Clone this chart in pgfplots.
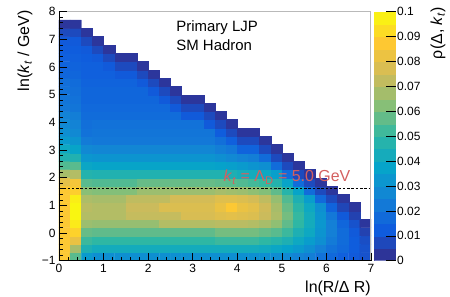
\documentclass[border=0pt]{standalone}
\usepackage{pgfplots}
\pgfplotsset{compat=1.18}
\usepackage{fontspec}
\setmainfont{Liberation Sans}
\definecolor{kred}{RGB}{212,96,96}
\pgfplotsset{colormap={kbird}{rgb=(0.2082,0.1664,0.5293) rgb=(0.0592,0.3599,0.8684) rgb=(0.0780,0.5041,0.8385) rgb=(0.0232,0.6419,0.7914) rgb=(0.1802,0.7178,0.6425) rgb=(0.5301,0.7492,0.4662) rgb=(0.8186,0.7328,0.3499) rgb=(0.9956,0.7862,0.1968) rgb=(0.9764,0.9832,0.0539)}}
\begin{document}
\begin{tikzpicture}
\path[use as bounding box] (-59bp,-36.3bp) rectangle (391bp,260.7bp);
\begin{axis}[
  at={(0,0)}, anchor=south west,
  scale only axis, width=312bp, height=249bp,
  xmin=0, xmax=7, ymin=-1, ymax=8,
  clip=false, axis on top,
  colormap name=kbird,
  point meta min=0, point meta max=0.1,
  xtick={0,1,2,3,4,5,6,7}, xticklabels={0,1,2,3,4,5,6,7},
  ytick={-1,0,1,2,3,4,5,6,7,8}, yticklabels={−1,0,1,2,3,4,5,6,7,8},
  minor x tick num=4, minor y tick num=4,
  tick align=inside, tickpos=left,
  major tick length=8bp, minor tick length=4bp,
  tick style={black, line width=0.6bp},
  axis line style={draw=none},
  ticklabel style={font=\fontsize{12}{14}\selectfont},
  xlabel={ln(R/Δ R)},
  ylabel={ln(\textit{k}\textsubscript{\textit{t}} / GeV)},
  label style={font=\fontsize{16}{18}\selectfont, inner sep=0pt},
  xlabel style={at={(axis description cs:1,-0.1297)}, anchor=base east},
  ylabel style={at={(axis description cs:-0.096,1.0068)}, anchor=base east},
  colorbar sampled,
  colorbar style={
    at={(parent axis.north east)}, anchor=north west, xshift=-5.5bp,
    scale only axis, width=22bp, height=249bp,
    samples=21,
    ytick={0,0.01,0.02,0.03,0.04,0.05,0.06,0.07,0.08,0.09,0.1},
    yticklabels={0,0.01,0.02,0.03,0.04,0.05,0.06,0.07,0.08,0.09,0.1},
    ytick pos=right, yticklabel pos=right,
    tick align=inside, major tick length=10bp, minor y tick num=0,
    axis line style={draw=none},
    tick style={black, line width=0.6bp},
    yticklabel style={font=\fontsize{12}{14}\selectfont, inner sep=1bp},
  },
]
\addplot[matrix plot*, mesh/cols=28, point meta=explicit, unbounded coords=jump] table[meta=c] {
x y c
0.125 -0.85 0.087
0.375 -0.85 0.056
0.625 -0.85 0.034
0.875 -0.85 0.030
1.125 -0.85 0.030
1.375 -0.85 0.030
1.625 -0.85 0.030
1.875 -0.85 0.030
2.125 -0.85 0.030
2.375 -0.85 0.030
2.625 -0.85 0.030
2.875 -0.85 0.030
3.125 -0.85 0.030
3.375 -0.85 0.030
3.625 -0.85 0.030
3.875 -0.85 0.030
4.125 -0.85 0.030
4.375 -0.85 0.030
4.625 -0.85 0.030
4.875 -0.85 0.029
5.125 -0.85 0.028
5.375 -0.85 0.026
5.625 -0.85 0.024
5.875 -0.85 0.020
6.125 -0.85 0.017
6.375 -0.85 0.014
6.625 -0.85 0.012
6.875 -0.85 0.010
0.125 -0.55 0.087
0.375 -0.55 0.068
0.625 -0.55 0.045
0.875 -0.55 0.042
1.125 -0.55 0.042
1.375 -0.55 0.042
1.625 -0.55 0.042
1.875 -0.55 0.042
2.125 -0.55 0.042
2.375 -0.55 0.042
2.625 -0.55 0.042
2.875 -0.55 0.042
3.125 -0.55 0.042
3.375 -0.55 0.042
3.625 -0.55 0.042
3.875 -0.55 0.042
4.125 -0.55 0.042
4.375 -0.55 0.042
4.625 -0.55 0.041
4.875 -0.55 0.039
5.125 -0.55 0.037
5.375 -0.55 0.034
5.625 -0.55 0.030
5.875 -0.55 0.025
6.125 -0.55 0.020
6.375 -0.55 0.017
6.625 -0.55 0.013
6.875 -0.55 0.010
0.125 -0.25 0.087
0.375 -0.25 0.082
0.625 -0.25 0.052
0.875 -0.25 0.050
1.125 -0.25 0.050
1.375 -0.25 0.050
1.625 -0.25 0.050
1.875 -0.25 0.050
2.125 -0.25 0.050
2.375 -0.25 0.050
2.625 -0.25 0.050
2.875 -0.25 0.050
3.125 -0.25 0.050
3.375 -0.25 0.050
3.625 -0.25 0.052
3.875 -0.25 0.052
4.125 -0.25 0.052
4.375 -0.25 0.052
4.625 -0.25 0.050
4.875 -0.25 0.048
5.125 -0.25 0.045
5.375 -0.25 0.040
5.625 -0.25 0.035
5.875 -0.25 0.030
6.125 -0.25 0.023
6.375 -0.25 0.018
6.625 -0.25 0.013
6.875 -0.25 0.009
0.125 0.05 0.087
0.375 0.05 0.090
0.625 0.05 0.058
0.875 0.05 0.057
1.125 0.05 0.057
1.375 0.05 0.057
1.625 0.05 0.057
1.875 0.05 0.057
2.125 0.05 0.057
2.375 0.05 0.057
2.625 0.05 0.057
2.875 0.05 0.057
3.125 0.05 0.057
3.375 0.05 0.057
3.625 0.05 0.060
3.875 0.05 0.060
4.125 0.05 0.060
4.375 0.05 0.060
4.625 0.05 0.058
4.875 0.05 0.056
5.125 0.05 0.052
5.375 0.05 0.045
5.625 0.05 0.040
5.875 0.05 0.032
6.125 0.05 0.025
6.375 0.05 0.018
6.625 0.05 0.012
6.875 0.05 0.006
0.125 0.35 0.087
0.375 0.35 0.096
0.625 0.35 0.066
0.875 0.35 0.065
1.125 0.35 0.065
1.375 0.35 0.065
1.625 0.35 0.065
1.875 0.35 0.065
2.125 0.35 0.065
2.375 0.35 0.070
2.625 0.35 0.070
2.875 0.35 0.070
3.125 0.35 0.070
3.375 0.35 0.070
3.625 0.35 0.071
3.875 0.35 0.071
4.125 0.35 0.071
4.375 0.35 0.070
4.625 0.35 0.068
4.875 0.35 0.064
5.125 0.35 0.057
5.375 0.35 0.050
5.625 0.35 0.042
5.875 0.35 0.033
6.125 0.35 0.025
6.375 0.35 0.016
6.625 0.35 0.010
6.875 0.35 0.003
0.125 0.65 0.087
0.375 0.65 0.099
0.625 0.65 0.070
0.875 0.65 0.070
1.125 0.65 0.070
1.375 0.65 0.070
1.625 0.65 0.073
1.875 0.65 0.073
2.125 0.65 0.073
2.375 0.65 0.073
2.625 0.65 0.073
2.875 0.65 0.077
3.125 0.65 0.077
3.375 0.65 0.077
3.625 0.65 0.079
3.875 0.65 0.080
4.125 0.65 0.079
4.375 0.65 0.078
4.625 0.65 0.074
4.875 0.65 0.069
5.125 0.65 0.060
5.375 0.65 0.051
5.625 0.65 0.042
5.875 0.65 0.032
6.125 0.65 0.022
6.375 0.65 0.012
6.625 0.65 0.006
6.875 0.65 nan
0.125 0.95 0.087
0.375 0.95 0.099
0.625 0.95 0.071
0.875 0.95 0.070
1.125 0.95 0.070
1.375 0.95 0.070
1.625 0.95 0.074
1.875 0.95 0.074
2.125 0.95 0.074
2.375 0.95 0.078
2.625 0.95 0.078
2.875 0.95 0.078
3.125 0.95 0.078
3.375 0.95 0.078
3.625 0.95 0.082
3.875 0.95 0.087
4.125 0.95 0.082
4.375 0.95 0.080
4.625 0.95 0.075
4.875 0.95 0.068
5.125 0.95 0.058
5.375 0.95 0.049
5.625 0.95 0.040
5.875 0.95 0.030
6.125 0.95 0.015
6.375 0.95 0.007
6.625 0.95 0.003
6.875 0.95 nan
0.125 1.25 0.087
0.375 1.25 0.097
0.625 1.25 0.069
0.875 1.25 0.068
1.125 1.25 0.068
1.375 1.25 0.068
1.625 1.25 0.072
1.875 1.25 0.072
2.125 1.25 0.072
2.375 1.25 0.072
2.625 1.25 0.076
2.875 1.25 0.076
3.125 1.25 0.076
3.375 1.25 0.076
3.625 1.25 0.079
3.875 1.25 0.079
4.125 1.25 0.078
4.375 1.25 0.076
4.625 1.25 0.072
4.875 1.25 0.065
5.125 1.25 0.055
5.375 1.25 0.045
5.625 1.25 0.035
5.875 1.25 0.017
6.125 1.25 0.008
6.375 1.25 0.003
6.625 1.25 nan
6.875 1.25 nan
0.125 1.55 0.087
0.375 1.55 0.089
0.625 1.55 0.063
0.875 1.55 0.062
1.125 1.55 0.062
1.375 1.55 0.062
1.625 1.55 0.062
1.875 1.55 0.066
2.125 1.55 0.066
2.375 1.55 0.066
2.625 1.55 0.066
2.875 1.55 0.066
3.125 1.55 0.066
3.375 1.55 0.066
3.625 1.55 0.068
3.875 1.55 0.067
4.125 1.55 0.066
4.375 1.55 0.064
4.625 1.55 0.062
4.875 1.55 0.057
5.125 1.55 0.048
5.375 1.55 0.038
5.625 1.55 0.018
5.875 1.55 0.008
6.125 1.55 0.003
6.375 1.55 nan
6.625 1.55 nan
6.875 1.55 nan
0.125 1.85 0.080
0.375 1.85 0.085
0.625 1.85 0.056
0.875 1.85 0.055
1.125 1.85 0.055
1.375 1.85 0.055
1.625 1.85 0.055
1.875 1.85 0.058
2.125 1.85 0.058
2.375 1.85 0.058
2.625 1.85 0.058
2.875 1.85 0.058
3.125 1.85 0.058
3.375 1.85 0.058
3.625 1.85 0.057
3.875 1.85 0.056
4.125 1.85 0.055
4.375 1.85 0.053
4.625 1.85 0.051
4.875 1.85 0.047
5.125 1.85 0.038
5.375 1.85 0.018
5.625 1.85 0.008
5.875 1.85 0.003
6.125 1.85 nan
6.375 1.85 nan
6.625 1.85 nan
6.875 1.85 nan
0.125 2.15 0.068
0.375 2.15 0.070
0.625 2.15 0.047
0.875 2.15 0.046
1.125 2.15 0.046
1.375 2.15 0.046
1.625 2.15 0.046
1.875 2.15 0.046
2.125 2.15 0.046
2.375 2.15 0.046
2.625 2.15 0.046
2.875 2.15 0.046
3.125 2.15 0.046
3.375 2.15 0.046
3.625 2.15 0.046
3.875 2.15 0.045
4.125 2.15 0.043
4.375 2.15 0.042
4.625 2.15 0.040
4.875 2.15 0.036
5.125 2.15 0.018
5.375 2.15 0.008
5.625 2.15 0.003
5.875 2.15 nan
6.125 2.15 nan
6.375 2.15 nan
6.625 2.15 nan
6.875 2.15 nan
0.125 2.45 0.055
0.375 2.45 0.056
0.625 2.45 0.039
0.875 2.45 0.038
1.125 2.45 0.038
1.375 2.45 0.038
1.625 2.45 0.038
1.875 2.45 0.038
2.125 2.45 0.038
2.375 2.45 0.038
2.625 2.45 0.038
2.875 2.45 0.038
3.125 2.45 0.038
3.375 2.45 0.038
3.625 2.45 0.037
3.875 2.45 0.036
4.125 2.45 0.034
4.375 2.45 0.032
4.625 2.45 0.030
4.875 2.45 0.018
5.125 2.45 0.008
5.375 2.45 0.003
5.625 2.45 nan
5.875 2.45 nan
6.125 2.45 nan
6.375 2.45 nan
6.625 2.45 nan
6.875 2.45 nan
0.125 2.75 0.046
0.375 2.75 0.046
0.625 2.75 0.033
0.875 2.75 0.032
1.125 2.75 0.032
1.375 2.75 0.032
1.625 2.75 0.032
1.875 2.75 0.032
2.125 2.75 0.032
2.375 2.75 0.032
2.625 2.75 0.032
2.875 2.75 0.032
3.125 2.75 0.032
3.375 2.75 0.032
3.625 2.75 0.030
3.875 2.75 0.028
4.125 2.75 0.026
4.375 2.75 0.024
4.625 2.75 0.018
4.875 2.75 0.008
5.125 2.75 0.003
5.375 2.75 nan
5.625 2.75 nan
5.875 2.75 nan
6.125 2.75 nan
6.375 2.75 nan
6.625 2.75 nan
6.875 2.75 nan
0.125 3.05 0.040
0.375 3.05 0.038
0.625 3.05 0.028
0.875 3.05 0.027
1.125 3.05 0.027
1.375 3.05 0.027
1.625 3.05 0.027
1.875 3.05 0.027
2.125 3.05 0.027
2.375 3.05 0.027
2.625 3.05 0.027
2.875 3.05 0.027
3.125 3.05 0.027
3.375 3.05 0.027
3.625 3.05 0.024
3.875 3.05 0.022
4.125 3.05 0.015
4.375 3.05 0.015
4.625 3.05 0.008
4.875 3.05 0.003
5.125 3.05 nan
5.375 3.05 nan
5.625 3.05 nan
5.875 3.05 nan
6.125 3.05 nan
6.375 3.05 nan
6.625 3.05 nan
6.875 3.05 nan
0.125 3.35 0.034
0.375 3.35 0.032
0.625 3.35 0.023
0.875 3.35 0.022
1.125 3.35 0.022
1.375 3.35 0.022
1.625 3.35 0.022
1.875 3.35 0.022
2.125 3.35 0.022
2.375 3.35 0.022
2.625 3.35 0.022
2.875 3.35 0.022
3.125 3.35 0.022
3.375 3.35 0.022
3.625 3.35 0.019
3.875 3.35 0.014
4.125 3.35 0.008
4.375 3.35 0.008
4.625 3.35 0.003
4.875 3.35 nan
5.125 3.35 nan
5.375 3.35 nan
5.625 3.35 nan
5.875 3.35 nan
6.125 3.35 nan
6.375 3.35 nan
6.625 3.35 nan
6.875 3.35 nan
0.125 3.65 0.030
0.375 3.65 0.028
0.625 3.65 0.020
0.875 3.65 0.021
1.125 3.65 0.021
1.375 3.65 0.021
1.625 3.65 0.021
1.875 3.65 0.021
2.125 3.65 0.021
2.375 3.65 0.021
2.625 3.65 0.021
2.875 3.65 0.021
3.125 3.65 0.021
3.375 3.65 0.021
3.625 3.65 0.013
3.875 3.65 0.008
4.125 3.65 0.003
4.375 3.65 0.003
4.625 3.65 nan
4.875 3.65 nan
5.125 3.65 nan
5.375 3.65 nan
5.625 3.65 nan
5.875 3.65 nan
6.125 3.65 nan
6.375 3.65 nan
6.625 3.65 nan
6.875 3.65 nan
0.125 3.95 0.028
0.375 3.95 0.026
0.625 3.95 0.019
0.875 3.95 0.020
1.125 3.95 0.020
1.375 3.95 0.020
1.625 3.95 0.020
1.875 3.95 0.020
2.125 3.95 0.020
2.375 3.95 0.020
2.625 3.95 0.020
2.875 3.95 0.020
3.125 3.95 0.020
3.375 3.95 0.012
3.625 3.95 0.008
3.875 3.95 0.003
4.125 3.95 nan
4.375 3.95 nan
4.625 3.95 nan
4.875 3.95 nan
5.125 3.95 nan
5.375 3.95 nan
5.625 3.95 nan
5.875 3.95 nan
6.125 3.95 nan
6.375 3.95 nan
6.625 3.95 nan
6.875 3.95 nan
0.125 4.25 0.026
0.375 4.25 0.024
0.625 4.25 0.018
0.875 4.25 0.018
1.125 4.25 0.018
1.375 4.25 0.018
1.625 4.25 0.018
1.875 4.25 0.018
2.125 4.25 0.018
2.375 4.25 0.018
2.625 4.25 0.018
2.875 4.25 0.012
3.125 4.25 0.012
3.375 4.25 0.008
3.625 4.25 0.003
3.875 4.25 nan
4.125 4.25 nan
4.375 4.25 nan
4.625 4.25 nan
4.875 4.25 nan
5.125 4.25 nan
5.375 4.25 nan
5.625 4.25 nan
5.875 4.25 nan
6.125 4.25 nan
6.375 4.25 nan
6.625 4.25 nan
6.875 4.25 nan
0.125 4.55 0.022
0.375 4.55 0.021
0.625 4.55 0.017
0.875 4.55 0.017
1.125 4.55 0.017
1.375 4.55 0.017
1.625 4.55 0.017
1.875 4.55 0.017
2.125 4.55 0.017
2.375 4.55 0.017
2.625 4.55 0.012
2.875 4.55 0.008
3.125 4.55 0.008
3.375 4.55 0.003
3.625 4.55 nan
3.875 4.55 nan
4.125 4.55 nan
4.375 4.55 nan
4.625 4.55 nan
4.875 4.55 nan
5.125 4.55 nan
5.375 4.55 nan
5.625 4.55 nan
5.875 4.55 nan
6.125 4.55 nan
6.375 4.55 nan
6.625 4.55 nan
6.875 4.55 nan
0.125 4.85 0.021
0.375 4.85 0.020
0.625 4.85 0.016
0.875 4.85 0.016
1.125 4.85 0.016
1.375 4.85 0.016
1.625 4.85 0.016
1.875 4.85 0.016
2.125 4.85 0.016
2.375 4.85 0.012
2.625 4.85 0.008
2.875 4.85 0.003
3.125 4.85 0.003
3.375 4.85 nan
3.625 4.85 nan
3.875 4.85 nan
4.125 4.85 nan
4.375 4.85 nan
4.625 4.85 nan
4.875 4.85 nan
5.125 4.85 nan
5.375 4.85 nan
5.625 4.85 nan
5.875 4.85 nan
6.125 4.85 nan
6.375 4.85 nan
6.625 4.85 nan
6.875 4.85 nan
0.125 5.15 0.020
0.375 5.15 0.019
0.625 5.15 0.016
0.875 5.15 0.016
1.125 5.15 0.016
1.375 5.15 0.016
1.625 5.15 0.016
1.875 5.15 0.016
2.125 5.15 0.012
2.375 5.15 0.008
2.625 5.15 0.003
2.875 5.15 nan
3.125 5.15 nan
3.375 5.15 nan
3.625 5.15 nan
3.875 5.15 nan
4.125 5.15 nan
4.375 5.15 nan
4.625 5.15 nan
4.875 5.15 nan
5.125 5.15 nan
5.375 5.15 nan
5.625 5.15 nan
5.875 5.15 nan
6.125 5.15 nan
6.375 5.15 nan
6.625 5.15 nan
6.875 5.15 nan
0.125 5.45 0.019
0.375 5.45 0.018
0.625 5.45 0.015
0.875 5.45 0.015
1.125 5.45 0.015
1.375 5.45 0.015
1.625 5.45 0.015
1.875 5.45 0.012
2.125 5.45 0.008
2.375 5.45 0.003
2.625 5.45 nan
2.875 5.45 nan
3.125 5.45 nan
3.375 5.45 nan
3.625 5.45 nan
3.875 5.45 nan
4.125 5.45 nan
4.375 5.45 nan
4.625 5.45 nan
4.875 5.45 nan
5.125 5.45 nan
5.375 5.45 nan
5.625 5.45 nan
5.875 5.45 nan
6.125 5.45 nan
6.375 5.45 nan
6.625 5.45 nan
6.875 5.45 nan
0.125 5.75 0.016
0.375 5.75 0.016
0.625 5.75 0.014
0.875 5.75 0.014
1.125 5.75 0.014
1.375 5.75 0.012
1.625 5.75 0.012
1.875 5.75 0.008
2.125 5.75 0.003
2.375 5.75 nan
2.625 5.75 nan
2.875 5.75 nan
3.125 5.75 nan
3.375 5.75 nan
3.625 5.75 nan
3.875 5.75 nan
4.125 5.75 nan
4.375 5.75 nan
4.625 5.75 nan
4.875 5.75 nan
5.125 5.75 nan
5.375 5.75 nan
5.625 5.75 nan
5.875 5.75 nan
6.125 5.75 nan
6.375 5.75 nan
6.625 5.75 nan
6.875 5.75 nan
0.125 6.05 0.015
0.375 6.05 0.015
0.625 6.05 0.014
0.875 6.05 0.014
1.125 6.05 0.012
1.375 6.05 0.008
1.625 6.05 0.008
1.875 6.05 0.003
2.125 6.05 nan
2.375 6.05 nan
2.625 6.05 nan
2.875 6.05 nan
3.125 6.05 nan
3.375 6.05 nan
3.625 6.05 nan
3.875 6.05 nan
4.125 6.05 nan
4.375 6.05 nan
4.625 6.05 nan
4.875 6.05 nan
5.125 6.05 nan
5.375 6.05 nan
5.625 6.05 nan
5.875 6.05 nan
6.125 6.05 nan
6.375 6.05 nan
6.625 6.05 nan
6.875 6.05 nan
0.125 6.35 0.014
0.375 6.35 0.014
0.625 6.35 0.013
0.875 6.35 0.012
1.125 6.35 0.008
1.375 6.35 0.003
1.625 6.35 0.003
1.875 6.35 nan
2.125 6.35 nan
2.375 6.35 nan
2.625 6.35 nan
2.875 6.35 nan
3.125 6.35 nan
3.375 6.35 nan
3.625 6.35 nan
3.875 6.35 nan
4.125 6.35 nan
4.375 6.35 nan
4.625 6.35 nan
4.875 6.35 nan
5.125 6.35 nan
5.375 6.35 nan
5.625 6.35 nan
5.875 6.35 nan
6.125 6.35 nan
6.375 6.35 nan
6.625 6.35 nan
6.875 6.35 nan
0.125 6.65 0.013
0.375 6.65 0.013
0.625 6.65 0.012
0.875 6.65 0.008
1.125 6.65 0.003
1.375 6.65 nan
1.625 6.65 nan
1.875 6.65 nan
2.125 6.65 nan
2.375 6.65 nan
2.625 6.65 nan
2.875 6.65 nan
3.125 6.65 nan
3.375 6.65 nan
3.625 6.65 nan
3.875 6.65 nan
4.125 6.65 nan
4.375 6.65 nan
4.625 6.65 nan
4.875 6.65 nan
5.125 6.65 nan
5.375 6.65 nan
5.625 6.65 nan
5.875 6.65 nan
6.125 6.65 nan
6.375 6.65 nan
6.625 6.65 nan
6.875 6.65 nan
0.125 6.95 0.012
0.375 6.95 0.012
0.625 6.95 0.008
0.875 6.95 0.003
1.125 6.95 nan
1.375 6.95 nan
1.625 6.95 nan
1.875 6.95 nan
2.125 6.95 nan
2.375 6.95 nan
2.625 6.95 nan
2.875 6.95 nan
3.125 6.95 nan
3.375 6.95 nan
3.625 6.95 nan
3.875 6.95 nan
4.125 6.95 nan
4.375 6.95 nan
4.625 6.95 nan
4.875 6.95 nan
5.125 6.95 nan
5.375 6.95 nan
5.625 6.95 nan
5.875 6.95 nan
6.125 6.95 nan
6.375 6.95 nan
6.625 6.95 nan
6.875 6.95 nan
0.125 7.25 0.008
0.375 7.25 0.008
0.625 7.25 0.003
0.875 7.25 nan
1.125 7.25 nan
1.375 7.25 nan
1.625 7.25 nan
1.875 7.25 nan
2.125 7.25 nan
2.375 7.25 nan
2.625 7.25 nan
2.875 7.25 nan
3.125 7.25 nan
3.375 7.25 nan
3.625 7.25 nan
3.875 7.25 nan
4.125 7.25 nan
4.375 7.25 nan
4.625 7.25 nan
4.875 7.25 nan
5.125 7.25 nan
5.375 7.25 nan
5.625 7.25 nan
5.875 7.25 nan
6.125 7.25 nan
6.375 7.25 nan
6.625 7.25 nan
6.875 7.25 nan
0.125 7.55 0.003
0.375 7.55 0.003
0.625 7.55 nan
0.875 7.55 nan
1.125 7.55 nan
1.375 7.55 nan
1.625 7.55 nan
1.875 7.55 nan
2.125 7.55 nan
2.375 7.55 nan
2.625 7.55 nan
2.875 7.55 nan
3.125 7.55 nan
3.375 7.55 nan
3.625 7.55 nan
3.875 7.55 nan
4.125 7.55 nan
4.375 7.55 nan
4.625 7.55 nan
4.875 7.55 nan
5.125 7.55 nan
5.375 7.55 nan
5.625 7.55 nan
5.875 7.55 nan
6.125 7.55 nan
6.375 7.55 nan
6.625 7.55 nan
6.875 7.55 nan
};
\addplot[black, line width=1bp, dash pattern=on 2.5bp off 1.8bp] coordinates {(0,1.609) (7,1.609)};
\node[anchor=base west, font=\fontsize{15}{18}\selectfont, inner sep=0pt] at (axis cs:2.63,7.29) {Primary LJP};
\node[anchor=base west, font=\fontsize{15}{18}\selectfont, inner sep=0pt] at (axis cs:2.63,6.605) {SM Hadron};
\node[anchor=base west, text=kred, font=\fontsize{16}{18}\selectfont, inner sep=0pt] at (axis cs:3.69,1.845) {\textit{k}\textsubscript{\textit{t}} = Λ\textsubscript{D} = 5.0 GeV};
\node[rotate=90, anchor=base east, font=\fontsize{16}{18}\selectfont, inner sep=0pt] at (rel axis cs:1.2276,1.0189) {ρ(Δ, \textit{k}\textsubscript{\textit{t}})};
\draw[gray!55, line width=1bp] (rel axis cs:0,1) -- (rel axis cs:1,1) -- (rel axis cs:1,0);
\draw[black, line width=0.8bp] (rel axis cs:0,1) -- (rel axis cs:0,0) -- (rel axis cs:1,0);
\end{axis}
\end{tikzpicture}
\end{document}
